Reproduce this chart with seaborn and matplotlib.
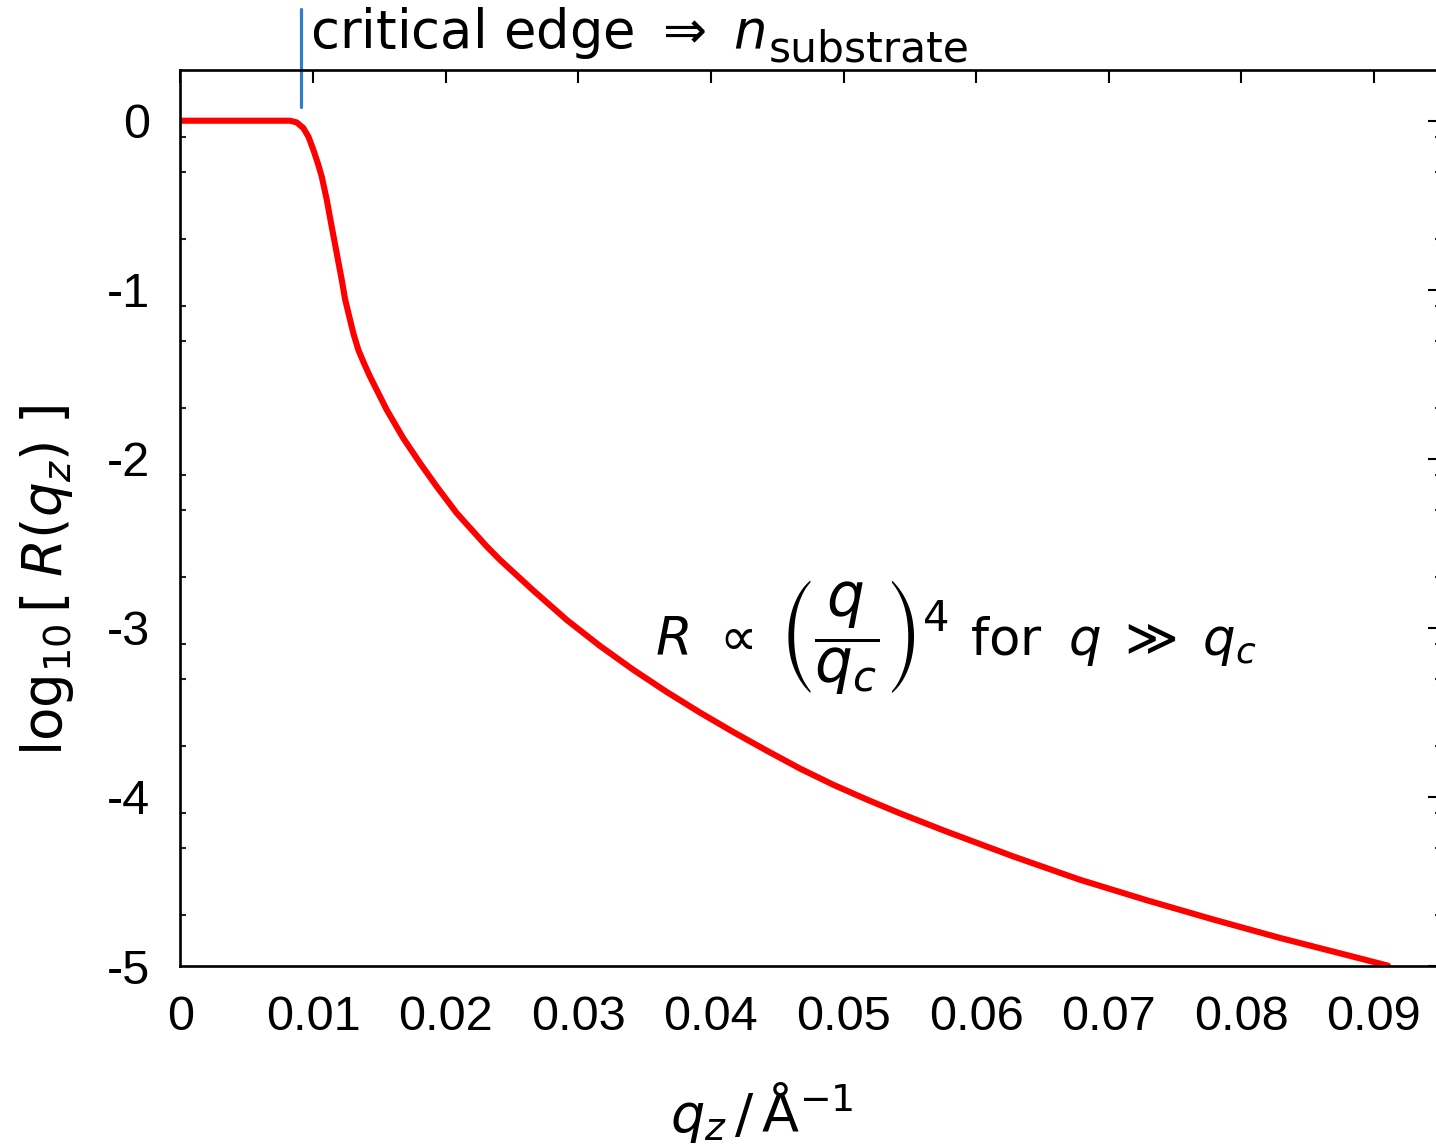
import numpy as np
import pandas as pd
import matplotlib
matplotlib.use("Agg")
import matplotlib.pyplot as plt
import seaborn as sns

# ---- data ----
q_z = [0.0, 0.00826, 0.00876, 0.00926, 0.00964, 0.01002, 0.01039, 0.01065,
       0.01103, 0.01140, 0.01178, 0.01216, 0.01242, 0.01303, 0.01341, 0.01385,
       0.01429, 0.01555, 0.01680, 0.01806, 0.01932, 0.02083, 0.02309, 0.02410,
       0.02661, 0.02913, 0.03164, 0.03415, 0.03667, 0.03918, 0.04169, 0.04421,
       0.04672, 0.04923, 0.05175, 0.05426, 0.05778, 0.06281, 0.06784, 0.07287,
       0.07789, 0.08292, 0.08795, 0.09106]
log10_R = [0.0, 0.0, -0.010, -0.043, -0.093, -0.172, -0.260, -0.330,
           -0.467, -0.625, -0.783, -0.941, -1.059, -1.256, -1.355, -1.437,
           -1.513, -1.710, -1.878, -2.025, -2.164, -2.321, -2.518, -2.598,
           -2.779, -2.953, -3.107, -3.248, -3.379, -3.501, -3.616, -3.726,
           -3.832, -3.928, -4.015, -4.097, -4.205, -4.352, -4.490, -4.611,
           -4.725, -4.834, -4.935, -4.998]
critical_edge_q = 0.00907
x_ticks = [0.0, 0.01, 0.02, 0.03, 0.04, 0.05, 0.06, 0.07, 0.08, 0.09]
x_tick_labels = ["0", "0.01", "0.02", "0.03", "0.04", "0.05", "0.06", "0.07", "0.08", "0.09"]
y_ticks = [0, -1, -2, -3, -4, -5]
y_tick_labels = ["0", "-1", "-2", "-3", "-4", "-5"]
y_minor_offsets = [-0.0969, -0.3010, -0.6990]

sns.set_theme(style="white")
plt.rcParams["font.family"] = ["Liberation Sans", "DejaVu Sans"]
plt.rcParams["axes.unicode_minus"] = False
plt.rcParams["mathtext.fontset"] = "dejavusans"
plt.rcParams["text.color"] = "black"
plt.rcParams["axes.labelcolor"] = "black"

df = pd.DataFrame({"q": q_z, "logR": log10_R})

W, H = 1436, 1144
fig = plt.figure(figsize=(W / 100, H / 100), dpi=100)
ax = fig.add_axes([180.5 / W, (H - 966) / H, (1441 - 180.5) / W, (966 - 70) / H])

def px(x, y):
    return (x / W, 1 - y / H)

sns.lineplot(data=df, x="q", y="logR", ax=ax, color="#ff0000", linewidth=4.4, sort=False)
ax.lines[0].set_solid_joinstyle("round")

ax.set_xlim(0, (1441 - 180.5) / 13260)
ax.set_ylim(-5, 0.30)

ax.set_xticks(x_ticks)
ax.set_xticklabels(x_tick_labels)
ax.set_yticks(y_ticks)
ax.set_yticklabels(y_tick_labels)
minor = [k + o for k in y_ticks for o in y_minor_offsets if -5 <= k + o <= 0.3]
ax.set_yticks(minor, minor=True)

for s in ax.spines.values():
    s.set_linewidth(1.9)
    s.set_color("black")

ax.tick_params(axis="both", which="major", direction="in", length=9.3, width=1.5,
               top=True, right=True, labelsize=35, colors="black")
ax.tick_params(axis="x", which="major", pad=21)
ax.tick_params(axis="y", which="major", pad=22)
ax.tick_params(axis="y", which="minor", direction="in", length=4.3, width=1.5,
               left=True, right=True)

ax.set_xlabel(r"$q_z\,/\,\mathrm{\AA}^{-1}$", fontsize=39)
ax.xaxis.set_label_coords((762 - 180.5) / 1260.5, -0.127)
ax.set_ylabel(r"$\mathrm{log}_{10}\,[\;R(q_z)\;]$", fontsize=39.5)
ax.yaxis.set_label_coords(-0.083, 0.43)

# critical edge marker and label
ax.plot([critical_edge_q, critical_edge_q], [0.08, 0.66], color="#2d7fcc",
        linewidth=2.3, clip_on=False)
t1 = fig.text(*px(310, 48), r"critical edge $\Rightarrow$ $n$",
              fontsize=38, family="DejaVu Sans", ha="left", va="baseline")
ax.annotate("substrate", xy=(1, 0), xycoords=t1, xytext=(2, 0),
            textcoords="offset points", fontsize=30.5, family="DejaVu Sans",
            ha="left", va="baseline", annotation_clip=False)

# asymptotic law
fig.text(*px(655, 655), r"$R\ \propto$", fontsize=38, ha="left", va="baseline")
fig.text(*px(779, 655), r"$\left(\dfrac{q}{q_c}\right)^{4}$", fontsize=43,
         ha="left", va="baseline")
fig.text(*px(970, 655), r"$\mathrm{for}\;\;q\;\gg\;q_c$", fontsize=37,
         ha="left", va="baseline")

fig.savefig("out.png", dpi=100)
